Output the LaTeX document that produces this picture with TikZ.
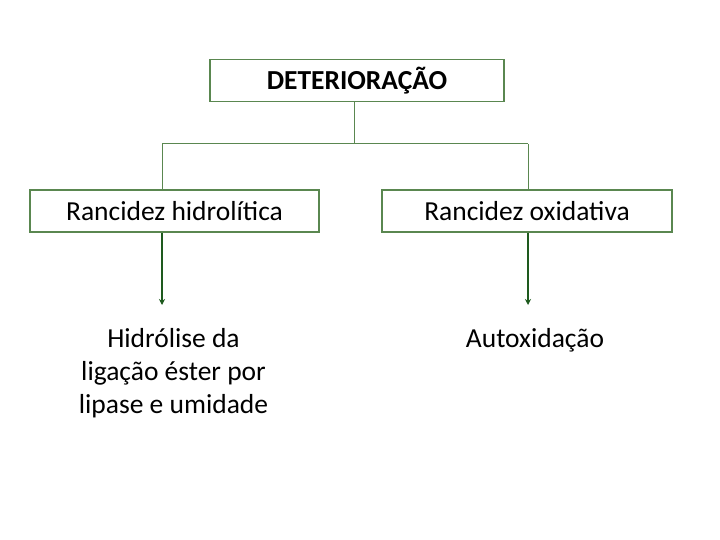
\documentclass[tikz,border=0pt]{standalone}
\usepackage{fontspec}
\setmainfont{Carlito}
\usetikzlibrary{arrows.meta}
\definecolor{boxgreen}{RGB}{90,135,80}
\definecolor{arrgreen}{RGB}{30,90,30}
\begin{document}
\begin{tikzpicture}[x=1pt,y=-1pt,
  box/.style={draw=boxgreen,line width=1.1pt,minimum height=42pt,inner sep=0pt,font=\fontsize{27.5}{31}\selectfont},
  link/.style={draw=boxgreen,line width=1pt},
  arr/.style={draw=arrgreen,line width=2pt,-{Stealth[length=6pt,width=6pt]}},
  lbl/.style={align=center,font=\fontsize{27.5}{33}\selectfont}]
\useasboundingbox (0,0) rectangle (720,540);
\node[box,minimum width=294pt,font=\fontsize{27.5}{31}\selectfont\bfseries] (top) at (357,80.5) {DETERIORAÇÃO};
\node[box,minimum width=289pt] (left) at (174.5,211) {Rancidez hidrolítica};
\node[box,minimum width=290pt] (right) at (527,211) {Rancidez oxidativa};
\coordinate (j) at (354,144);
\coordinate (jl) at (162,144);
\coordinate (jr) at (528,144);
\draw[link] (top.south -| j) -- (j);
\draw[link] (jl) -- (jr);
\draw[link] (jl) -- (left.north -| jl);
\draw[link] (jr) -- (right.north -| jr);
\node[lbl] (hl) at (173.5,373) {Hidrólise da\\ligação éster por\\lipase e umidade};
\node[lbl] (ox) at (535,340) {Autoxidação};
\coordinate (al) at (162,305);
\coordinate (ar) at (528,305);
\draw[arr] (left.south -| al) -- (al);
\draw[arr] (right.south -| ar) -- (ar);
\end{tikzpicture}
\end{document}
